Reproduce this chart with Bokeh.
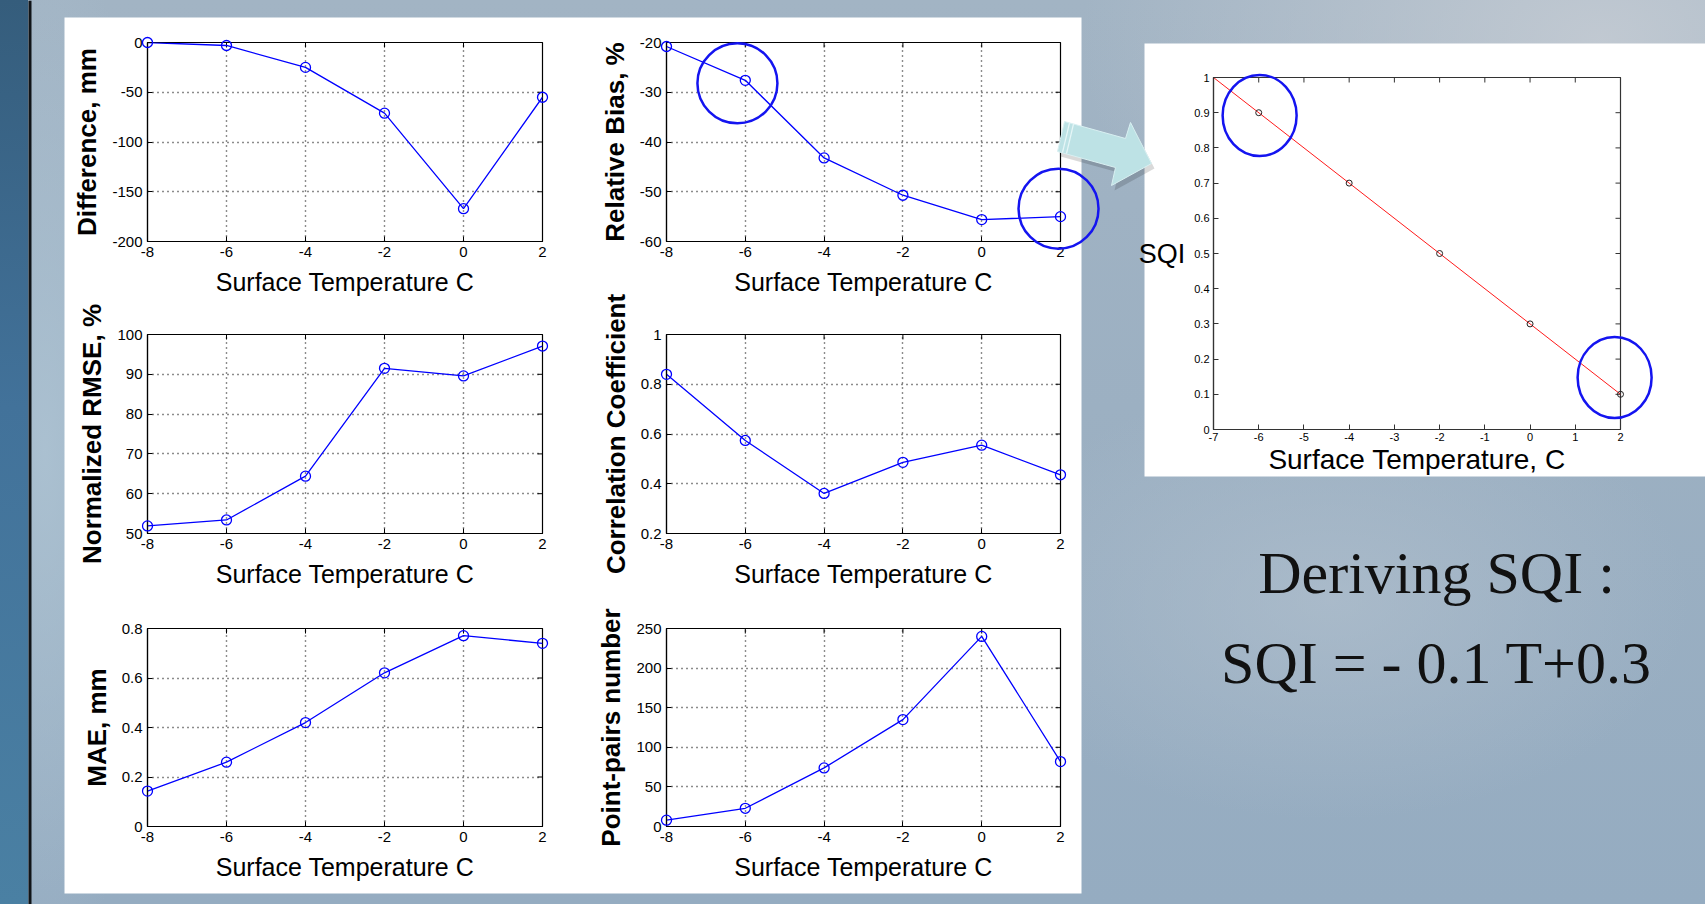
import numpy as np
from bokeh.plotting import figure
from bokeh.models import Range1d, FixedTicker
from bokeh.core.properties import value
from bokeh.embed import file_html
from bokeh.resources import INLINE

# ---------------- data ----------------
temperature = [-8, -6, -4, -2, 0, 2]
difference_mm = [0, -3, -25, -71, -167, -55]
relative_bias_pct = [-20.8, -27.6, -43.2, -50.7, -55.6, -55.0]
normalized_rmse_pct = [51.9, 53.4, 64.4, 91.5, 89.6, 97.1]
correlation_coefficient = [0.84, 0.574, 0.361, 0.486, 0.555, 0.436]
mae_mm = [0.143, 0.26, 0.42, 0.621, 0.771, 0.74]
point_pairs_number = [8, 23, 74, 135, 240, 82]

x_ticks = [-8, -6, -4, -2, 0, 2]
x_tick_labels = ["-8", "-6", "-4", "-2", "0", "2"]
difference_ticks = [-200, -150, -100, -50, 0]
difference_tick_labels = ["-200", "-150", "-100", "-50", "0"]
bias_ticks = [-60, -50, -40, -30, -20]
bias_tick_labels = ["-60", "-50", "-40", "-30", "-20"]
rmse_ticks = [50, 60, 70, 80, 90, 100]
rmse_tick_labels = ["50", "60", "70", "80", "90", "100"]
corr_ticks = [0.2, 0.4, 0.6, 0.8, 1.0]
corr_tick_labels = ["0.2", "0.4", "0.6", "0.8", "1"]
mae_ticks = [0.0, 0.2, 0.4, 0.6, 0.8]
mae_tick_labels = ["0", "0.2", "0.4", "0.6", "0.8"]
pairs_ticks = [0, 50, 100, 150, 200, 250]
pairs_tick_labels = ["0", "50", "100", "150", "200", "250"]

bias_highlight_x = [-6.2, 1.95]
bias_highlight_y = [-28.2, -53.4]

sqi_temperature = [-6, -4, -2, 0, 2]
sqi_value = [0.9, 0.7, 0.5, 0.3, 0.1]
sqi_fit_temperature = [-7, 2]
sqi_fit_value = [1.0, 0.1]
sqi_x_ticks = [-7, -6, -5, -4, -3, -2, -1, 0, 1, 2]
sqi_x_tick_labels = ["-7", "-6", "-5", "-4", "-3", "-2", "-1", "0", "1", "2"]
sqi_y_ticks = [0.0, 0.1, 0.2, 0.3, 0.4, 0.5, 0.6, 0.7, 0.8, 0.9, 1.0]
sqi_y_tick_labels = ["0", "0.1", "0.2", "0.3", "0.4", "0.5", "0.6", "0.7", "0.8", "0.9", "1"]
sqi_highlight_x = [-5.98, 1.87]
sqi_highlight_y = [0.892, 0.148]

slide_text = ["Deriving SQI :", "SQI = - 0.1 T+0.3"]

# ---------------- layout (page pixels) ----------------
W, H = 1705, 904
FONT = "Liberation Sans"
BLUE = "#0000ff"
CIRCLE_BLUE = "#1414f0"

LEFT_COL = (147, 542)
RIGHT_COL = (666, 1060)
ROWS = [(42, 241), (334, 533), (628, 826)]
SQI_FRAME = (1213, 77, 1620, 429)


def make_panel(frame, pads, xr, yr):
    fl, ft, fr, fb = frame
    pl, pt, pr, pb = pads
    f = figure(width=pl + (fr - fl) + pr, height=pt + (fb - ft) + pb,
               x_range=Range1d(*xr), y_range=Range1d(*yr),
               output_backend="svg", toolbar_location=None, title=None,
               min_border_left=pl, min_border_right=pr,
               min_border_top=pt, min_border_bottom=pb,
               border_fill_color=None, background_fill_color=None,
               outline_line_color="black", outline_line_width=1.2,
               styles={"position": "absolute", "left": f"{fl - pl}px", "top": f"{ft - pt}px"})
    return f


def style_axis(ax, ticks, labels, label_text, label_size, label_style,
               tick_size, label_standoff, tick_standoff=5, color="black"):
    ax.ticker = FixedTicker(ticks=ticks, minor_ticks=[])
    ax.major_label_overrides = dict(zip(ticks, labels))
    ax.major_tick_in = 5
    ax.major_tick_out = 0
    ax.minor_tick_in = 0
    ax.minor_tick_out = 0
    ax.major_tick_line_color = color
    ax.axis_line_color = color
    ax.axis_line_width = 1.2
    ax.major_label_text_font = FONT
    ax.major_label_text_font_size = tick_size
    ax.major_label_text_color = "black"
    ax.major_label_standoff = tick_standoff
    ax.axis_label = label_text
    ax.axis_label_text_font = FONT
    ax.axis_label_text_font_size = label_size
    ax.axis_label_text_font_style = label_style
    ax.axis_label_text_color = "black"
    ax.axis_label_standoff = label_standoff


def edge_ticks(f, xticks, yticks, xr, yr, color="black"):
    # inward ticks on the top and right edges (half of each dash is clipped by the frame)
    f.scatter(x=xticks, y=[yr[1]] * len(xticks), marker="dash", angle=np.pi / 2,
              size=10, line_color=color, line_width=1)
    f.scatter(x=[xr[1]] * len(yticks), y=yticks, marker="dash",
              size=10, line_color=color, line_width=1)


# ---------------- background slide ----------------
bg_css = ("linear-gradient(180deg, #355d7c 0%, #42729a 45%, #4a80a3 100%) 0 0 / 28px 100% no-repeat,"
          "radial-gradient(ellipse 520px 320px at 1600px 40px, rgba(196,203,211,0.9), rgba(196,203,211,0)),"
          "radial-gradient(ellipse 360px 220px at 1330px 600px, rgba(176,191,205,0.7), rgba(176,191,205,0)),"
          "radial-gradient(ellipse 120px 520px at 45px 450px, rgba(172,194,210,0.9), rgba(172,194,210,0)),"
          "linear-gradient(180deg, #a2b4c4 0%, #9cb0c2 45%, #95acc1 100%)")
bg = figure(width=W, height=H, x_range=Range1d(0, W), y_range=Range1d(H, 0),
            output_backend="svg", toolbar_location=None, title=None,
            x_axis_type=None, y_axis_type=None,
            min_border=0, min_border_left=0, min_border_right=0,
            min_border_top=0, min_border_bottom=0,
            border_fill_color=None, background_fill_color=None, outline_line_color=None,
            styles={"position": "absolute", "left": "0px", "top": "0px", "background": bg_css})
bg.grid.visible = False
# black rule beside the dark strip
bg.quad(left=[28], right=[31], top=[0], bottom=[H], fill_color="#101418", line_color=None)
# white panels
bg.quad(left=[64], right=[1081], top=[17], bottom=[893], fill_color="white", line_color=None)
bg.quad(left=[1144], right=[W], top=[43], bottom=[476], fill_color="white", line_color=None)
bg.text(x=[1436, 1436], y=[572, 662], text=slide_text,
        text_font=value("Liberation Serif"), text_font_size="60px",
        text_align="center", text_baseline="alphabetic", text_color="#111111")

# ---------------- six subplots ----------------
specs = [
    (LEFT_COL, ROWS[0], difference_mm, (-200, 0), difference_ticks, difference_tick_labels, "Difference, mm"),
    (RIGHT_COL, ROWS[0], relative_bias_pct, (-60, -20), bias_ticks, bias_tick_labels, "Relative Bias, %"),
    (LEFT_COL, ROWS[1], normalized_rmse_pct, (50, 100), rmse_ticks, rmse_tick_labels, "Normalized RMSE, %"),
    (RIGHT_COL, ROWS[1], correlation_coefficient, (0.2, 1.0), corr_ticks, corr_tick_labels, "Correlation Coefficient"),
    (LEFT_COL, ROWS[2], mae_mm, (0, 0.8), mae_ticks, mae_tick_labels, "MAE, mm"),
    (RIGHT_COL, ROWS[2], point_pairs_number, (0, 250), pairs_ticks, pairs_tick_labels, "Point-pairs number"),
]

panels = []
xr = (-8, 2)
for i, (col, row, vals, yr, yt, ytl, ylab) in enumerate(specs):
    pads = (90, 40, 50 if col == RIGHT_COL else 40, 70)
    f = make_panel((col[0], row[0], col[1], row[1]), pads, xr, yr)
    style_axis(f.xaxis[0], x_ticks, x_tick_labels, "Surface Temperature C", "25px", "normal", "15px", 8)
    style_axis(f.yaxis[0], yt, ytl, ylab, "26px", "bold", "15px", 7)
    f.xgrid.ticker = FixedTicker(ticks=x_ticks)
    f.ygrid.ticker = FixedTicker(ticks=yt)
    f.grid.grid_line_color = "black"
    f.grid.grid_line_dash = "1 4"
    f.grid.grid_line_width = 1.4
    f.grid.grid_line_alpha = 0.9
    edge_ticks(f, x_ticks, yt, xr, yr)
    f.line(temperature, vals, line_color=BLUE, line_width=1.3)
    f.scatter(temperature, vals, marker="circle", size=10, fill_color=None,
              line_color=BLUE, line_width=1.3, level="overlay")
    if i == 1:
        f.circle(x=bias_highlight_x, y=bias_highlight_y, radius=40, radius_units="screen",
                 fill_color=None, line_color=CIRCLE_BLUE, line_width=2.5, level="overlay")
    panels.append(f)

# ---------------- SQI plot ----------------
sxr, syr = (-7, 2), (0, 1)
sq = make_panel(SQI_FRAME, (163, 37, 85, 55), sxr, syr)
sq.outline_line_color = "#333333"
style_axis(sq.xaxis[0], sqi_x_ticks, sqi_x_tick_labels, "Surface Temperature, C", "28px", "normal",
           "11px", 0, tick_standoff=3, color="#333333")
style_axis(sq.yaxis[0], sqi_y_ticks, sqi_y_tick_labels, "SQI", "27px", "normal",
           "11px", 6, tick_standoff=4, color="#333333")
try:
    sq.yaxis[0].axis_label_orientation = "horizontal"
except Exception:
    pass
sq.grid.visible = False
edge_ticks(sq, sqi_x_ticks, sqi_y_ticks, sxr, syr, color="#333333")
sq.line(sqi_fit_temperature, sqi_fit_value, line_color="#ff1a1a", line_width=1)
sq.scatter(sqi_temperature, sqi_value, marker="circle", size=6, fill_color=None,
           line_color="#222222", line_width=1, level="overlay")
sq.ellipse(x=sqi_highlight_x, y=sqi_highlight_y, width=74, height=81,
           width_units="screen", height_units="screen",
           fill_color=None, line_color=CIRCLE_BLUE, line_width=2.5, level="overlay")

# the callout arrow, drawn in page pixels through an extra range pair
sq.extra_x_ranges = {"page_x": Range1d(SQI_FRAME[0], SQI_FRAME[2])}
sq.extra_y_ranges = {"page_y": Range1d(SQI_FRAME[3], SQI_FRAME[1])}
arrow_x = [1064, 1125, 1130, 1151, 1111, 1115, 1057]
arrow_y = [121, 138, 122, 163, 185, 167, 151]
sq.patch([x + 3 for x in arrow_x], [y + 5 for y in arrow_y], x_range_name="page_x", y_range_name="page_y",
         fill_color="black", fill_alpha=0.15, line_color=None, level="overlay")
sq.patch(arrow_x, arrow_y, x_range_name="page_x", y_range_name="page_y",
         fill_color="#bde2e5", line_color="#d9f0f2", line_width=1, level="overlay")
sq.multi_line(xs=[[1069, 1062], [1073, 1066]], ys=[[122.5, 152], [123.5, 153]],
              x_range_name="page_x", y_range_name="page_y",
              line_color="#e6f6f7", line_width=1.2, level="overlay")

# independent roots, each placed absolutely (no frame alignment between them)
p = [bg] + panels + [sq]

with open("out.html", "w") as fh:
    fh.write(file_html(p, INLINE))
